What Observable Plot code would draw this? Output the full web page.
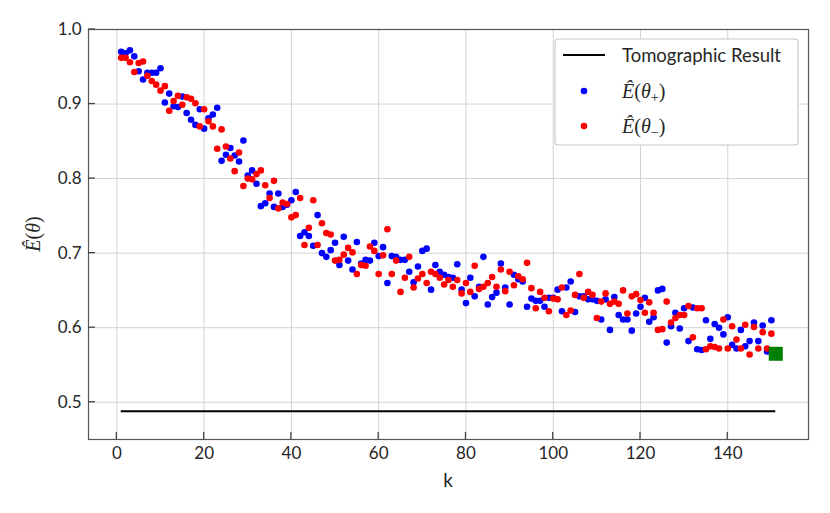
<!DOCTYPE html>
<html><head><meta charset="utf-8">
<script src="https://cdn.jsdelivr.net/npm/d3@7"></script>
<script src="https://cdn.jsdelivr.net/npm/@observablehq/plot@0.6"></script>
<style>body{margin:0;background:#fff} #chart{width:830px;height:513px}</style>
</head><body><div id="chart"></div>
<script>
// Estimated Ê(θ+) for k = 1..150
const ePlus = [
0.970,0.968,0.972,0.964,0.944,0.933,0.942,0.942,0.942,0.948,
0.902,0.914,0.897,0.896,0.910,0.888,0.879,0.872,0.893,0.867,
0.881,0.886,0.895,0.824,0.832,0.841,0.831,0.823,0.851,0.804,
0.811,0.793,0.763,0.767,0.780,0.762,0.780,0.762,0.765,0.771,
0.782,0.723,0.728,0.723,0.710,0.751,0.700,0.695,0.704,0.714,
0.684,0.722,0.690,0.678,0.715,0.686,0.691,0.690,0.714,0.696,
0.708,0.660,0.696,0.695,0.691,0.691,0.675,0.661,0.682,0.703,
0.706,0.651,0.684,0.675,0.671,0.668,0.667,0.685,0.651,0.633,
0.667,0.642,0.655,0.695,0.631,0.641,0.647,0.686,0.654,0.631,
0.671,0.665,0.662,0.628,0.639,0.636,0.636,0.628,0.640,0.640,
0.651,0.622,0.654,0.662,0.621,0.642,0.642,0.638,0.638,0.636,
0.611,0.638,0.597,0.641,0.617,0.611,0.611,0.596,0.619,0.628,
0.640,0.608,0.614,0.650,0.652,0.580,0.602,0.620,0.599,0.626,
0.582,0.627,0.571,0.570,0.610,0.585,0.605,0.600,0.591,0.614,
0.577,0.572,0.597,0.575,0.582,0.607,0.582,0.603,0.568,0.610
];
// Estimated Ê(θ−) for k = 1..150
const eMinus = [
0.962,0.962,0.956,0.943,0.955,0.957,0.938,0.931,0.926,0.918,
0.924,0.891,0.904,0.911,0.899,0.909,0.907,0.901,0.870,0.893,
0.877,0.870,0.840,0.866,0.843,0.827,0.810,0.835,0.790,0.800,
0.799,0.806,0.811,0.791,0.774,0.797,0.760,0.768,0.766,0.748,
0.751,0.774,0.711,0.734,0.771,0.711,0.740,0.727,0.725,0.690,
0.691,0.698,0.707,0.701,0.672,0.684,0.683,0.709,0.703,0.672,
0.697,0.732,0.672,0.690,0.648,0.667,0.695,0.654,0.666,0.672,
0.660,0.675,0.672,0.667,0.658,0.664,0.655,0.664,0.646,0.660,
0.648,0.683,0.652,0.655,0.660,0.668,0.655,0.678,0.649,0.675,
0.657,0.669,0.665,0.687,0.653,0.626,0.648,0.640,0.622,0.639,
0.638,0.654,0.617,0.623,0.644,0.672,0.640,0.648,0.644,0.613,
0.635,0.646,0.632,0.635,0.632,0.650,0.619,0.642,0.645,0.637,
0.620,0.634,0.620,0.597,0.598,0.635,0.607,0.613,0.617,0.617,
0.629,0.587,0.626,0.626,0.571,0.575,0.574,0.572,0.611,0.572,
0.602,0.584,0.572,0.604,0.564,0.601,0.572,0.594,0.572,0.592
];
const kStart = 1;
const tomographicValue = 0.488;
const tomographicSpan = [1, 151];
const finalK = [151];
const finalValue = [0.565];
const xTicks = [0, 20, 40, 60, 80, 100, 120, 140];
const yTicks = [0.5, 0.6, 0.7, 0.8, 0.9, 1.0];
const xLabel = "k";

const rows = ePlus.map((v, i) => ({k: kStart + i, plus: v, minus: eMinus[i]}));
const finalRows = finalK.map((k, i) => ({k, value: finalValue[i]}));

const W = 830, H = 513;
const plot = Plot.plot({
  width: W, height: H,
  marginLeft: 88, marginRight: 22, marginTop: 29, marginBottom: 74,
  style: {fontFamily: "Lato, 'DejaVu Sans', sans-serif", fontSize: "17px", color: "#262626", background: "white", overflow: "visible"},
  x: {domain: [-6.5, 158.5]},
  y: {domain: [0.45, 1.0]},
  marks: [
    Plot.gridX(xTicks, {stroke: "#d4d4d4", strokeOpacity: 1, strokeWidth: 1}),
    Plot.gridY(yTicks, {stroke: "#d4d4d4", strokeOpacity: 1, strokeWidth: 1}),
    Plot.axisX(xTicks, {tickSize: 0, tickPadding: 7, tickFormat: d => String(d), label: null}),
    Plot.axisY(yTicks, {tickSize: 0, tickPadding: 7, tickFormat: d3.format(".1f"), label: null}),
    Plot.ruleY([tomographicValue], {x1: tomographicSpan[0], x2: tomographicSpan[1], stroke: "black", strokeWidth: 2}),
    Plot.dot(rows, {x: "k", y: "plus", fill: "blue", r: 3.3}),
    Plot.dot(rows, {x: "k", y: "minus", fill: "red", r: 3.3}),
    Plot.dot(finalRows, {x: "k", y: "value", symbol: "square", fill: "green", r: 7.9}),
    Plot.frame({stroke: "#555", strokeWidth: 1.2})
  ]
});
document.getElementById("chart").appendChild(plot);

const svg = d3.select(plot);
const sx = plot.scale("x"), sy = plot.scale("y");
const [x0, x1] = sx.range, [y0, y1] = sy.range; // y0 bottom, y1 top
const g = svg.append("g");
// inward ticks
xTicks.forEach(t => {
  const x = sx.apply(t);
  g.append("line").attr("x1", x).attr("x2", x).attr("y1", y0).attr("y2", y0 - 7).attr("stroke", "#444").attr("stroke-width", 1.3);
});
yTicks.forEach(t => {
  const y = sy.apply(t);
  g.append("line").attr("x1", x0).attr("x2", x0 + 7).attr("y1", y).attr("y2", y).attr("stroke", "#444").attr("stroke-width", 1.3);
});
// x label
g.append("text").attr("x", (x0 + x1) / 2).attr("y", 487).attr("text-anchor", "middle")
  .attr("font-size", 19).attr("fill", "#262626").text(xLabel);
// y label
const math = "'Liberation Serif', 'DejaVu Serif', serif";
const yl = g.append("text").attr("transform", `translate(40,${(y0 + y1) / 2}) rotate(-90)`)
  .attr("text-anchor", "middle").attr("font-family", math).attr("font-size", 20).attr("fill", "#262626");
yl.append("tspan").attr("font-style", "italic").text("Ê");
yl.append("tspan").text("(");
yl.append("tspan").attr("font-style", "italic").text("θ");
yl.append("tspan").text(")");

// legend
const lg = svg.append("g").attr("text-anchor", "start");
lg.append("rect").attr("x", 555).attr("y", 39).attr("width", 243).attr("height", 106).attr("rx", 3)
  .attr("fill", "white").attr("stroke", "#c8c8c8").attr("stroke-width", 1.2);
lg.append("line").attr("x1", 563).attr("x2", 605).attr("y1", 55).attr("y2", 55).attr("stroke", "black").attr("stroke-width", 2);
lg.append("text").attr("x", 622).attr("y", 62).attr("text-anchor", "start").attr("font-size", 18.5).attr("fill", "#262626").text("Tomographic Result");
const entries = [["blue", "+", 91], ["red", "−", 126]];
entries.forEach(([c, s, y]) => {
  lg.append("circle").attr("cx", 584).attr("cy", y).attr("r", 3.3).attr("fill", c);
  const t = lg.append("text").attr("x", 622).attr("y", y + 7).attr("text-anchor", "start").attr("font-family", math).attr("font-size", 20).attr("fill", "#262626");
  t.append("tspan").attr("font-style", "italic").text("Ê");
  t.append("tspan").text("(");
  t.append("tspan").attr("font-style", "italic").text("θ");
  t.append("tspan").attr("font-size", 14).attr("dy", 4).text(s);
  t.append("tspan").attr("dy", -4).text(")");
});
</script>
</body></html>
